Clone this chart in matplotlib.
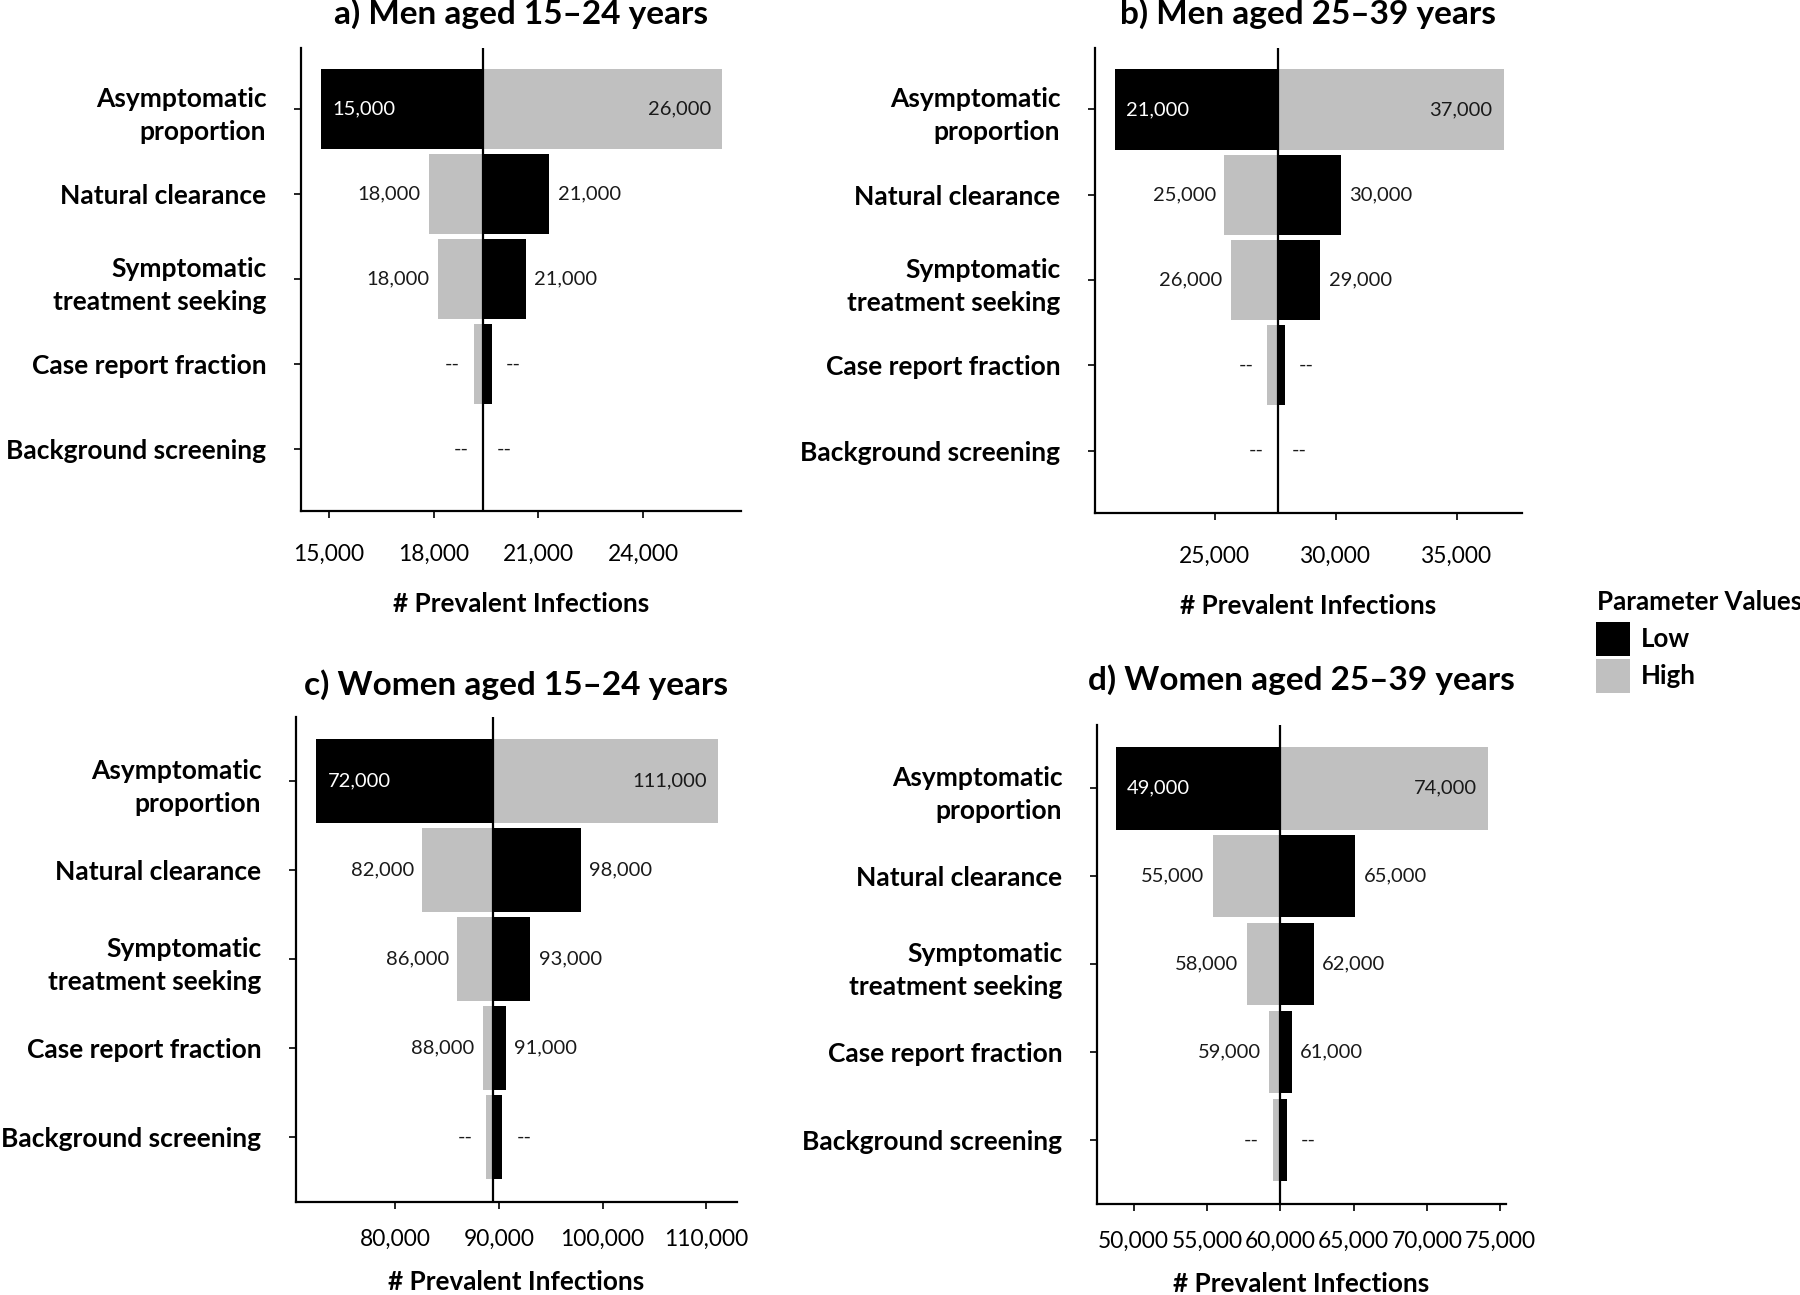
import matplotlib
matplotlib.use('Agg')
import matplotlib.pyplot as plt
from matplotlib.patches import Patch
from matplotlib.ticker import FuncFormatter

plt.rcParams['font.family'] = ['Lato', 'DejaVu Sans']

# data
categories = ['Asymptomatic\nproportion', 'Natural clearance', 'Symptomatic\ntreatment seeking',
              'Case report fraction', 'Background screening']

titles = ['a) Men aged 15\u201324 years', 'b) Men aged 25\u201339 years',
          'c) Women aged 15\u201324 years', 'd) Women aged 25\u201339 years']

base_a = 19410
low_a = [14780, 21310, 20640, 19660, 19410]
high_a = [26260, 17860, 18120, 19150, 19410]
low_lbl_a = ['15,000', '21,000', '21,000', '--', '--']
high_lbl_a = ['26,000', '18,000', '18,000', '--', '--']
xticks_a = [15000, 18000, 21000, 24000]
xlim_a = (14200, 26800)

base_b = 27600
low_b = [20880, 30220, 29360, 27900, 27600]
high_b = [36920, 25410, 25680, 27170, 27600]
low_lbl_b = ['21,000', '30,000', '29,000', '--', '--']
high_lbl_b = ['37,000', '25,000', '26,000', '--', '--']
xticks_b = [25000, 30000, 35000]
xlim_b = (20070, 37680)

base_c = 89440
low_c = [72350, 97920, 93030, 90650, 90330]
high_c = [111170, 82570, 85970, 88410, 88790]
low_lbl_c = ['72,000', '98,000', '93,000', '91,000', '--']
high_lbl_c = ['111,000', '82,000', '86,000', '88,000', '--']
xticks_c = [80000, 90000, 100000, 110000]
xlim_c = (70390, 112990)

base_d = 59990
low_d = [48800, 65130, 62280, 60790, 60440]
high_d = [74170, 55400, 57720, 59230, 59500]
low_lbl_d = ['49,000', '65,000', '62,000', '61,000', '--']
high_lbl_d = ['74,000', '55,000', '58,000', '59,000', '--']
xticks_d = [50000, 55000, 60000, 65000, 70000, 75000]
xlim_d = (47500, 75400)

panels = [
    (base_a, low_a, high_a, low_lbl_a, high_lbl_a, xticks_a, xlim_a),
    (base_b, low_b, high_b, low_lbl_b, high_lbl_b, xticks_b, xlim_b),
    (base_c, low_c, high_c, low_lbl_c, high_lbl_c, xticks_c, xlim_c),
    (base_d, low_d, high_d, low_lbl_d, high_lbl_d, xticks_d, xlim_d),
]

W, H = 1800, 1295
# axes boxes in pixels: left, right, top, bottom
boxes = [(301, 741, 48, 511), (1095, 1522, 48, 513),
         (296, 737, 717, 1202), (1097, 1506, 725, 1204)]
title_y = [14, 14, 685, 680]
tick_pad = [19, 19, 14, 14]
label_pad = [19, 19, 15, 15]

LOW_C = 'black'
HIGH_C = '#c0c0c0'

fig = plt.figure(figsize=(18, 12.95), dpi=100)


def put_label(ax, y, val, left_side, text, inside):
    if inside:
        off = 8 if left_side else -8
        ha = 'left' if left_side else 'right'
    else:
        pad = 10 if text == '--' else 6
        off = -pad if left_side else pad
        ha = 'right' if left_side else 'left'
    col = 'white' if (inside and left_side) else '#1a1a1a'
    ax.annotate(text, xy=(val, y), xytext=(off, 0), textcoords='offset points',
                ha=ha, va='center', fontsize=14.5, color=col)


for k, (base, low, high, low_lbl, high_lbl, xticks, xlim) in enumerate(panels):
    l, r, t, b = boxes[k]
    ax = fig.add_axes([l / W, 1 - b / H, (r - l) / W, (b - t) / H])
    y = list(range(len(categories)))
    ax.barh(y, [v - base for v in low], left=base, height=0.94, color=LOW_C)
    ax.barh(y, [v - base for v in high], left=base, height=0.94, color=HIGH_C)
    ax.axvline(base, color='black', lw=1.6, zorder=3)

    for i in y:
        put_label(ax, i, low[i], low[i] < high[i], low_lbl[i], i == 0)
        put_label(ax, i, high[i], high[i] <= low[i], high_lbl[i], i == 0)

    ax.set_xlim(xlim)
    ax.set_ylim(4.73, -0.72)
    ax.set_yticks(y)
    ax.set_yticklabels(categories, fontsize=19, fontweight='bold',
                       multialignment='right', linespacing=1.45)
    ax.set_xticks(xticks)
    ax.xaxis.set_major_formatter(FuncFormatter(lambda v, p: '{:,.0f}'.format(v)))
    ax.tick_params(axis='x', labelsize=16.4, length=5, width=1.2, pad=tick_pad[k], direction='out')
    ax.tick_params(axis='y', length=5, width=1.2, pad=20, direction='out')
    for s in ['top', 'right']:
        ax.spines[s].set_visible(False)
    for s in ['left', 'bottom']:
        ax.spines[s].set_linewidth(1.6)
    ax.set_xlabel('# Prevalent Infections', fontsize=18.8, fontweight='bold', labelpad=label_pad[k])
    fig.text((l + r) / 2 / W, 1 - title_y[k] / H, titles[k], fontsize=24, fontweight='bold',
             ha='center', va='center')

# legend on the right
fig.text(1597 / W, 1 - 602 / H, 'Parameter Values', fontsize=18.6, fontweight='bold',
         ha='left', va='center')
handles = [Patch(facecolor=LOW_C), Patch(facecolor=HIGH_C)]
leg = fig.legend(handles, ['Low', 'High'], loc='upper left',
                 bbox_to_anchor=(1596 / W, 1 - 622 / H), frameon=False, borderpad=0,
                 borderaxespad=0, handlelength=1.32, handleheight=1.65, handletextpad=0.43,
                 labelspacing=0.1, prop={'size': 18.6, 'weight': 'bold'})

plt.savefig('out.png', dpi=100)
